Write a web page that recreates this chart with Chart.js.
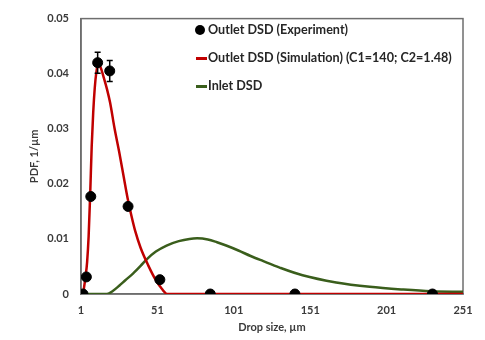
<!DOCTYPE html>
<html>
<head>
<meta charset="utf-8">
<script src="https://cdn.jsdelivr.net/npm/chart.js@4"></script>
<style>
  html, body { margin: 0; padding: 0; background: #fff; }
  #wrap { position: relative; width: 485px; height: 340px; }
  #legend { position: absolute; left: 0; top: 0; font: bold 12.6px Lato, sans-serif; color: #262626; }
  .item { position: absolute; white-space: nowrap; line-height: 14px; }
  .dot { position: absolute; width: 10px; height: 10px; border-radius: 50%; background: #000; }
  .ln { position: absolute; height: 2.5px; width: 11px; }
</style>
</head>
<body>
<div id="wrap">
  <canvas id="c" width="485" height="340"></canvas>
  <div id="legend"></div>
</div>
<script>
// данные
const expX   = [2.3, 4.5, 7.4, 11.9, 19.8, 31.8, 52.6, 85.6, 141, 231];
const expY   = [0, 0.0031, 0.0177, 0.0420, 0.0405, 0.0159, 0.0026, 0, 0, 0];
const expErr = [0, 0, 0, 0.0019, 0.0019, 0, 0, 0, 0, 0];

const simX = [1, 2.3, 3, 4, 5, 6, 7, 8, 9, 10, 11, 12, 12.6, 14, 16, 18, 20, 23, 26, 29, 31.5, 34, 36.5, 40, 45, 50, 54, 57.5, 251];
const simY = [0, 0, 0.0012, 0.0032, 0.0058, 0.0105, 0.0180, 0.0268, 0.0330, 0.0374, 0.0402, 0.0416, 0.0418, 0.0410, 0.0392, 0.0372, 0.0348, 0.0300, 0.0258, 0.0212, 0.0174, 0.0142, 0.0114, 0.0084, 0.0052, 0.0025, 0.0009, 0, 0];

const inletX = [1, 18, 22, 26, 30, 35, 40, 44, 50, 57, 65, 72, 77, 84, 90, 96, 104, 112, 120, 131, 146, 168, 190, 212, 230, 251];
const inletY = [0, 0, 0.0006, 0.0015, 0.0025, 0.0037, 0.0051, 0.0063, 0.0077, 0.0088, 0.0096, 0.0100, 0.0101, 0.0099, 0.0094, 0.0088, 0.0079, 0.0069, 0.0060, 0.0048, 0.0034, 0.0021, 0.0013, 0.0008, 0.0005, 0.0004];

const xTicks = [1, 51, 101, 151, 201, 251];
const yTicks = [0, 0.01, 0.02, 0.03, 0.04, 0.05];
const yTickLabels = ['0', '0.01', '0.02', '0.03', '0.04', '0.05'];

const seriesNames = ['Outlet DSD (Experiment)', 'Outlet DSD (Simulation) (C1=140; C2=1.48)', 'Inlet DSD'];
const seriesColors = ['#000000', '#c00000', '#3a5e1c'];

const toPts = (xs, ys) => xs.map((x, i) => ({x: x, y: ys[i]}));

// рамка вокруг области графика
const frame = {
    id: 'frame',
    beforeDatasetsDraw(chart) {
        const a = chart.chartArea, ctx = chart.ctx;
        ctx.save();
        ctx.strokeStyle = '#6e6e6e';
        ctx.lineWidth = 1.5;
        ctx.strokeRect(a.left, a.top, a.right - a.left, a.bottom - a.top);
        ctx.restore();
    }
};

// планки погрешностей
const errorBars = {
    id: 'errorBars',
    afterDatasetsDraw(chart) {
        const xs = chart.scales.x, ys = chart.scales.y, ctx = chart.ctx;
        ctx.save();
        ctx.strokeStyle = '#000';
        ctx.lineWidth = 1.5;
        expErr.forEach((e, i) => {
            if (!e) return;
            const px = xs.getPixelForValue(expX[i]);
            const top = ys.getPixelForValue(expY[i] + e);
            const bot = ys.getPixelForValue(expY[i] - e);
            ctx.beginPath();
            ctx.moveTo(px, top); ctx.lineTo(px, bot);
            ctx.moveTo(px - 3, top); ctx.lineTo(px + 3, top);
            ctx.moveTo(px - 3, bot); ctx.lineTo(px + 3, bot);
            ctx.stroke();
        });
        ctx.restore();
    }
};

const tickFont = { family: 'Lato, sans-serif', size: 11, weight: 'bold' };

new Chart(document.getElementById('c'), {
    type: 'scatter',
    data: {
        datasets: [{
            label: seriesNames[0],
            data: toPts(expX, expY),
            backgroundColor: seriesColors[0],
            borderColor: seriesColors[0],
            pointRadius: 5,
            showLine: false
        }, {
            label: seriesNames[1],
            data: toPts(simX, simY),
            borderColor: seriesColors[1],
            borderWidth: 2.5,
            pointRadius: 0,
            showLine: true,
            cubicInterpolationMode: 'monotone'
        }, {
            label: seriesNames[2],
            data: toPts(inletX, inletY),
            borderColor: seriesColors[2],
            borderWidth: 2.5,
            pointRadius: 0,
            showLine: true,
            cubicInterpolationMode: 'monotone'
        }]
    },
    options: {
        responsive: false,
        animation: false,
        layout: { padding: { left: 28, top: 14, right: 22, bottom: 6 } },
        plugins: {
            legend: { display: false },
            tooltip: { enabled: false }
        },
        scales: {
            x: {
                type: 'linear',
                min: 1,
                max: 251,
                afterBuildTicks: s => { s.ticks = xTicks.map(v => ({value: v})); },
                afterFit: s => { s.height = 40; },
                grid: { display: false, drawTicks: false },
                border: { color: '#6e6e6e', width: 1.5 },
                ticks: { color: '#3a3a3a', font: tickFont, padding: 10, maxRotation: 0 },
                title: { display: true, text: 'Drop size, µm', color: '#3a3a3a', font: tickFont, padding: 0 }
            },
            y: {
                min: 0,
                max: 0.05,
                afterBuildTicks: s => { s.ticks = yTicks.map(v => ({value: v})); },
                afterFit: s => { s.width = 53; },
                grid: { display: false, drawTicks: false },
                border: { color: '#6e6e6e', width: 1.5 },
                ticks: {
                    color: '#3a3a3a', font: tickFont, padding: 12,
                    callback: (v, i) => yTickLabels[i]
                },
                title: { display: true, text: 'PDF, 1/µm', color: '#3a3a3a', font: tickFont, padding: 0 }
            }
        }
    },
    plugins: [frame, errorBars]
});

// легенда поверх области графика
const legend = document.getElementById('legend');
const rows = [30, 58, 86];
seriesNames.forEach((name, i) => {
    if (i === 0) {
        const d = document.createElement('div');
        d.className = 'dot';
        d.style.left = '195px'; d.style.top = (rows[i] - 5) + 'px';
        legend.appendChild(d);
    } else {
        const l = document.createElement('div');
        l.className = 'ln';
        l.style.left = '196px'; l.style.top = (rows[i] - 1) + 'px';
        l.style.background = seriesColors[i];
        legend.appendChild(l);
    }
    const t = document.createElement('div');
    t.className = 'item';
    t.textContent = name;
    t.style.left = '208px'; t.style.top = (rows[i] - 7) + 'px';
    legend.appendChild(t);
});
</script>
</body>
</html>
